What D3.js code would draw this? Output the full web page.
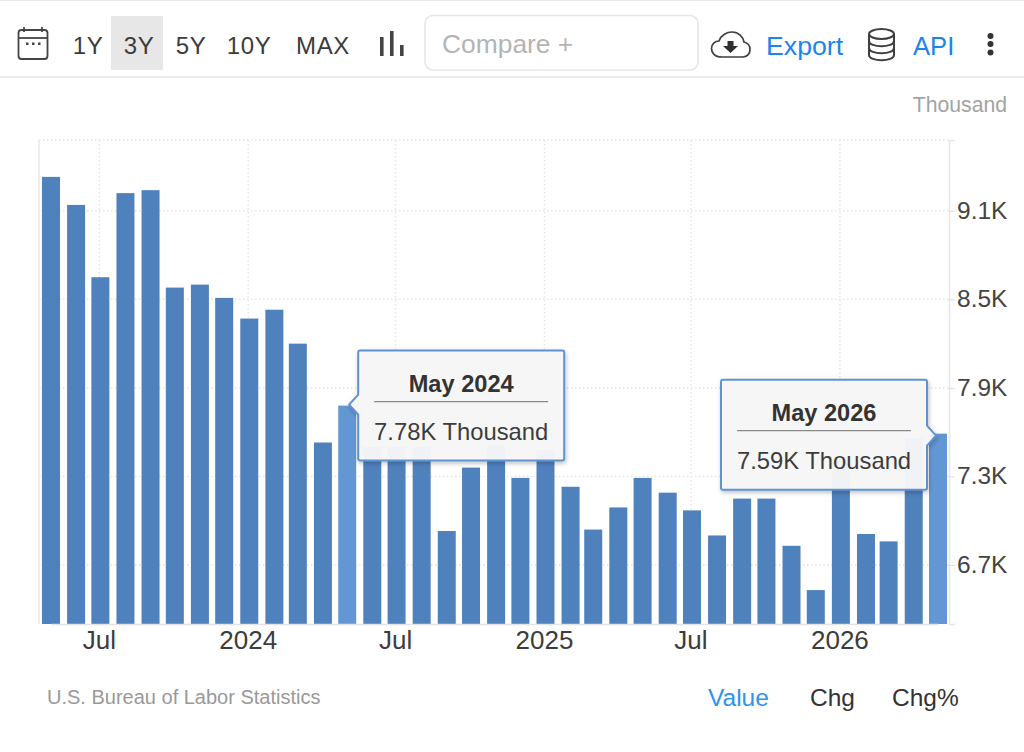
<!DOCTYPE html>
<html>
<head>
<meta charset="utf-8">
<script src="https://cdn.jsdelivr.net/npm/d3@7"></script>
<style>
  html, body { margin: 0; padding: 0; background: #fff; }
  svg { display: block; }
  text { font-family: "Liberation Sans", Arial, sans-serif; }
</style>
</head>
<body>
<div id="chart"></div>
<script>
// values, May 2023 .. May 2026, thousands
const months = ["2023-05","2023-06","2023-07","2023-08","2023-09","2023-10","2023-11","2023-12",
  "2024-01","2024-02","2024-03","2024-04","2024-05","2024-06","2024-07","2024-08","2024-09","2024-10","2024-11","2024-12",
  "2025-01","2025-02","2025-03","2025-04","2025-05","2025-06","2025-07","2025-08","2025-09","2025-10","2025-11","2025-12",
  "2026-01","2026-02","2026-03","2026-04","2026-05"];
const values = [9.33,9.14,8.65,9.22,9.24,8.58,8.60,8.51,
  8.37,8.43,8.20,7.53,7.78,7.50,7.50,7.50,6.93,7.36,7.51,7.29,
  7.48,7.23,6.94,7.09,7.29,7.19,7.07,6.90,7.15,7.15,6.83,6.53,
  7.40,6.91,6.86,7.56,7.59];
const yTicks = [6.7,7.3,7.9,8.5,9.1];
const xTickMonths = ["2023-07","2024-01","2024-07","2025-01","2025-07","2026-01"];
const rangeLabels = ["1Y","3Y","5Y","10Y","MAX"];
const rangeX = [88,139,191,249,323];
const tabs = ["Value","Chg","Chg%"];
const tabX = [708,810,892];
const tips = [
  {month:"2024-05", title:"May 2024", label:"7.78K Thousand", side:"right"},
  {month:"2026-05", title:"May 2026", label:"7.59K Thousand", side:"left"}
];

const width = 1024, height = 752;
const parse = d3.utcParse("%Y-%m");
const data = months.map((m,i) => ({month:m, date:parse(m), value:values[i]}));

const svg = d3.select("#chart").append("svg")
  .attr("width", width).attr("height", height);

const defs = svg.append("defs");
const shadow = defs.append("filter").attr("id","tipShadow")
  .attr("x","-10%").attr("y","-10%").attr("width","120%").attr("height","125%");
shadow.append("feDropShadow").attr("dx",1).attr("dy",2).attr("stdDeviation",2)
  .attr("flood-color","#000").attr("flood-opacity",0.25);

const x = d3.scaleUtc()
  .domain([parse("2023-05"), parse("2026-05")])
  .range([51, 938]);
const y = d3.scaleLinear()
  .domain([6.3, 9.58])
  .range([624, 140]);
const barW = 18;

// ---- toolbar
svg.append("line").attr("x1",0).attr("x2",width).attr("y1",0.5).attr("y2",0.5).attr("stroke","#eaeaea");
svg.append("line").attr("x1",0).attr("x2",width).attr("y1",77).attr("y2",77).attr("stroke","#e6e6e6").attr("stroke-width",1.5);
svg.append("rect").attr("x",111).attr("y",16).attr("width",52).attr("height",54).attr("fill","#e8e7e8");

svg.selectAll(".range").data(rangeLabels).enter().append("text")
  .attr("class","range")
  .attr("x",(d,i) => rangeX[i]).attr("y",54)
  .attr("text-anchor","middle")
  .attr("font-size",24).attr("fill","#3c3c3c").attr("letter-spacing",0.6)
  .text(d => d);

// calendar icon
const cal = svg.append("g").attr("fill","none").attr("stroke","#444").attr("stroke-width",1.8);
cal.append("rect").attr("x",18.5).attr("y",30).attr("width",29).attr("height",29).attr("rx",3);
cal.append("line").attr("x1",19).attr("x2",47).attr("y1",38).attr("y2",38);
cal.append("line").attr("x1",24).attr("x2",24).attr("y1",27).attr("y2",32);
cal.append("line").attr("x1",42).attr("x2",42).attr("y1",27).attr("y2",32);
svg.selectAll(".calDot").data([27,33,39]).enter().append("rect")
  .attr("x",d => d-1).attr("y",42.5).attr("width",2.5).attr("height",2.5).attr("fill","#444");

// bars icon
svg.selectAll(".barIcon").data([[380,37],[390,31],[400,45]]).enter().append("rect")
  .attr("x",d => d[0]).attr("y",d => d[1]).attr("width",3.6).attr("height",d => 56-d[1]).attr("fill","#444");

// compare box
svg.append("rect").attr("x",425).attr("y",15.5).attr("width",273).attr("height",54.5).attr("rx",8)
  .attr("fill","#fff").attr("stroke","#e6e6e2").attr("stroke-width",1.6);
svg.append("text").attr("x",442).attr("y",53).attr("font-size",26.4).attr("fill","#b4b4b4").text("Compare +");

// cloud icon
svg.append("path")
  .attr("d","M722 57 C714 57 711.5 52 711.5 48.5 C711.5 44 715 41 719 41 C721 35 727 32 732 32 C739 32 743 37 744 42 C748 43 750 46 750 49.5 C750 54 747 57 743 57 Z")
  .attr("fill","none").attr("stroke","#3f3f3f").attr("stroke-width",1.7);
svg.append("path")
  .attr("d","M727.5 41 h6 v5 h4.5 l-7.5 7 l-7.5 -7 h4.5 Z")
  .attr("fill","#2f2f2f");

// database icon
const db = svg.append("g").attr("fill","none").attr("stroke","#3f3f3f").attr("stroke-width",2);
db.append("ellipse").attr("cx",881.5).attr("cy",34).attr("rx",12.5).attr("ry",5);
db.append("path").attr("d","M869 34 V55 C869 62 894 62 894 55 V34");
db.append("path").attr("d","M869 41 C869 48 894 48 894 41");
db.append("path").attr("d","M869 48 C869 55 894 55 894 48");

svg.append("text").attr("x",766).attr("y",55).attr("font-size",26.7).attr("fill","#1a85ef").text("Export");
svg.append("text").attr("x",913).attr("y",55).attr("font-size",25.6).attr("fill","#1a85ef").text("API");
svg.selectAll(".dot").data([36,44,52.5]).enter().append("circle")
  .attr("cx",990.5).attr("cy",d => d).attr("r",3).attr("fill","#333");

svg.append("text").attr("x",1007).attr("y",112).attr("text-anchor","end")
  .attr("font-size",21.2).attr("fill","#a3a3a3").text("Thousand");

// ---- grid
const grid = svg.append("g").attr("stroke","#e4e4e4").attr("stroke-width",1.5).attr("stroke-dasharray","1.5 2.5");
grid.selectAll(".gy").data(yTicks.concat([9.58])).enter().append("line")
  .attr("x1",39).attr("x2",949).attr("y1",d => y(d)).attr("y2",d => y(d));
grid.selectAll(".gx").data(xTickMonths).enter().append("line")
  .attr("x1",d => x(parse(d))-1).attr("x2",d => x(parse(d))-1)
  .attr("y1",y(9.58)).attr("y2",624);

svg.append("line").attr("x1",39).attr("x2",39).attr("y1",140).attr("y2",624).attr("stroke","#e8e8e8").attr("stroke-width",1.5);

// ---- bars
svg.selectAll(".bar").data(data).enter().append("rect")
  .attr("class","bar")
  .attr("x",d => x(d.date) - barW/2)
  .attr("y",d => y(d.value))
  .attr("width",barW)
  .attr("height",d => y(6.3) - y(d.value))
  .attr("fill",d => tips.some(t => t.month === d.month) ? "#6397d4" : "#4f81bd");

// ---- axes
const yAxis = svg.append("g").attr("transform","translate(949,0)")
  .call(d3.axisRight(y).tickValues(yTicks).tickSize(6).tickPadding(2).tickFormat(d => d3.format(".1f")(d) + "K"));
yAxis.select(".domain").attr("stroke","#e6e6e6").attr("stroke-width",1.5);
yAxis.selectAll("line").attr("stroke","#dcdcdc");
yAxis.selectAll("text").attr("font-size",24.5).attr("fill","#444").attr("dy","0.3em")
  .attr("font-family","'Liberation Sans', Arial, sans-serif");

const xAxis = svg.append("g").attr("transform","translate(0,624)")
  .call(d3.axisBottom(x).tickValues(xTickMonths.map(parse)).tickSize(0).tickPadding(6.5)
    .tickFormat(d => d.getUTCMonth() === 0 ? d3.utcFormat("%Y")(d) : d3.utcFormat("%b")(d)));
xAxis.select(".domain").attr("stroke","#e4e4e4").attr("stroke-width",1.5);
xAxis.selectAll("text").attr("font-size",26).attr("fill","#3c3c3c").attr("dx",-1.5)
  .attr("font-family","'Liberation Sans', Arial, sans-serif");

// ---- tooltips, placed from the bar they point at
const tipW = 206, tipH = 110, gap = 9;
tips.forEach(t => {
  const d = data.find(e => e.month === t.month);
  const px = x(d.date), py = y(d.value);
  const tipX = t.side === "right" ? px + gap + 2 : px - gap - 2 - tipW;
  const tipY = py + (t.side === "right" ? -55 : -54);
  const ay = t.side === "right" ? py - tipY - 1 : py - tipY + 2;
  const r = 2, R = tipX + tipW, B = tipY + tipH;
  let p = `M${tipX+r} ${tipY} H${R-r} Q${R} ${tipY} ${R} ${tipY+r}`;
  if (t.side === "left") p += ` V${tipY+ay-10} L${R+9} ${tipY+ay} L${R} ${tipY+ay+10}`;
  p += ` V${B-r} Q${R} ${B} ${R-r} ${B} H${tipX+r} Q${tipX} ${B} ${tipX} ${B-r}`;
  if (t.side === "right") p += ` V${tipY+ay+10} L${tipX-9} ${tipY+ay} L${tipX} ${tipY+ay-10}`;
  p += ` V${tipY+r} Q${tipX} ${tipY} ${tipX+r} ${tipY} Z`;

  const g = svg.append("g");
  g.append("path").attr("d",p)
    .attr("fill","#f7f7f8").attr("fill-opacity",0.96)
    .attr("stroke","#5f93cf").attr("stroke-width",2)
    .attr("filter","url(#tipShadow)");
  const cx = tipX + tipW/2;
  g.append("text").attr("x",cx).attr("y",tipY+41).attr("text-anchor","middle")
    .attr("font-size",23.6).attr("font-weight","bold").attr("fill","#333").text(t.title);
  g.append("line").attr("x1",tipX+16).attr("x2",R-16).attr("y1",tipY+51).attr("y2",tipY+51)
    .attr("stroke","#8a8a8a").attr("stroke-width",1.3);
  g.append("text").attr("x",cx).attr("y",tipY+89).attr("text-anchor","middle")
    .attr("font-size",23.8).attr("fill","#3c3c3c").text(t.label);
});

// ---- footer
svg.append("text").attr("x",47).attr("y",704).attr("font-size",20).attr("fill","#999").text("U.S. Bureau of Labor Statistics");
svg.selectAll(".tab").data(tabs).enter().append("text")
  .attr("class","tab")
  .attr("x",(d,i) => tabX[i]).attr("y",706)
  .attr("font-size",24.5).attr("fill",(d,i) => i === 0 ? "#2e93ee" : "#333")
  .text(d => d);
</script>
</body>
</html>
